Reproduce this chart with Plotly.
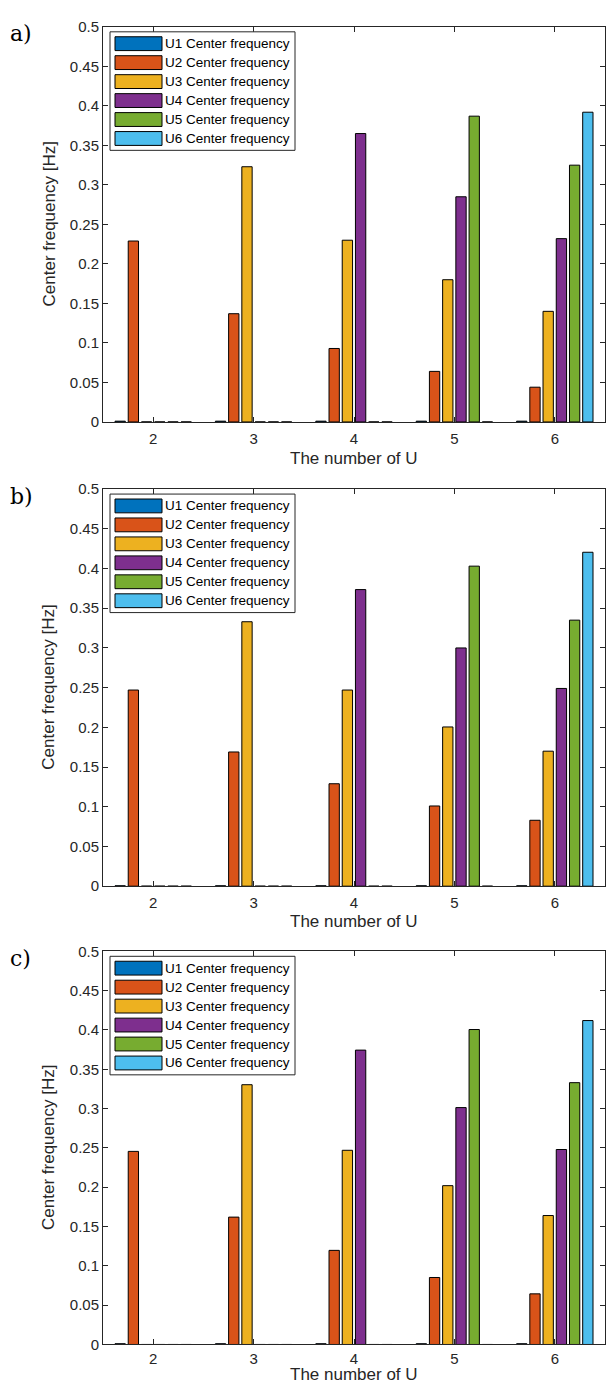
import plotly.graph_objects as go

# ---------------- data ----------------
categories = [2, 3, 4, 5, 6]
series_names = ["U1 Center frequency", "U2 Center frequency", "U3 Center frequency",
                "U4 Center frequency", "U5 Center frequency", "U6 Center frequency"]
series_colors = ["#0072BD", "#D95319", "#EDB120", "#7E2F8E", "#77AC30", "#4DBEEE"]
panel_labels = ["a)", "b)", "c)"]

a_u1 = [0.001, 0.001, 0.001, 0.001, 0.001]
a_u2 = [0.229, 0.137, 0.093, 0.064, 0.044]
a_u3 = [0.0, 0.323, 0.230, 0.180, 0.140]
a_u4 = [0.0, 0.0, 0.365, 0.285, 0.232]
a_u5 = [0.0, 0.0, 0.0, 0.387, 0.325]
a_u6 = [0.0, 0.0, 0.0, 0.0, 0.392]

b_u1 = [0.0005, 0.0005, 0.0005, 0.0005, 0.0005]
b_u2 = [0.247, 0.169, 0.129, 0.101, 0.083]
b_u3 = [0.0, 0.333, 0.247, 0.2005, 0.170]
b_u4 = [0.0, 0.0, 0.3735, 0.300, 0.249]
b_u5 = [0.0, 0.0, 0.0, 0.403, 0.335]
b_u6 = [0.0, 0.0, 0.0, 0.0, 0.4205]

c_u1 = [0.001, 0.001, 0.001, 0.001, 0.001]
c_u2 = [0.2456, 0.162, 0.1197, 0.0852, 0.0644]
c_u3 = [0.0, 0.3304, 0.247, 0.202, 0.164]
c_u4 = [0.0, 0.0, 0.3744, 0.3013, 0.248]
c_u5 = [0.0, 0.0, 0.0, 0.4006, 0.333]
c_u6 = [0.0, 0.0, 0.0, 0.0, 0.412]

y_tickvals = [0, 0.05, 0.1, 0.15, 0.2, 0.25, 0.3, 0.35, 0.4, 0.45, 0.5]
y_ticktext = ["0", "0.05", "0.1", "0.15", "0.2", "0.25", "0.3", "0.35", "0.4", "0.45", "0.5"]
x_ticktext = ["2", "3", "4", "5", "6"]
x_title = "The number of U"
y_title = "Center frequency [Hz]"

panels = [
    [a_u1, a_u2, a_u3, a_u4, a_u5, a_u6],
    [b_u1, b_u2, b_u3, b_u4, b_u5, b_u6],
    [c_u1, c_u2, c_u3, c_u4, c_u5, c_u6],
]

# ---------------- layout geometry (page pixels) ----------------
PAGE_W, PAGE_H = 614, 1399
OFF = 8                      # default body margin of the page
FW, FH = PAGE_W - 2 * OFF, PAGE_H - 2 * OFF
PLOT_L, PLOT_R = 103, 605
PANEL_TOPS = [18, 486, 954]
PANEL_BOTS = [418, 888, 1352]
XTITLE_Y = [455, 924, 1382]
XTICK_STANDOFF = [3, 3, 1]
AXCOL = "#262626"
SANS = "Liberation Sans, Arial, Helvetica, sans-serif"


def px(x):
    return (x - OFF) / FW


def py(y):
    return 1 - (y - OFF) / FH


fig = go.Figure()
layout = dict(
    width=FW, height=FH,
    margin=dict(l=0, r=0, t=0, b=0),
    paper_bgcolor="white", plot_bgcolor="white",
    barmode="group", bargap=0.21, bargroupgap=0.22,
    showlegend=False,
    font=dict(family=SANS, color=AXCOL),
)
shapes = []
annotations = []

for p, data in enumerate(panels):
    sfx = "" if p == 0 else str(p + 1)
    top, bot = PANEL_TOPS[p], PANEL_BOTS[p]
    for s, vals in enumerate(data):
        fig.add_trace(go.Bar(
            x=categories, y=vals, name=series_names[s],
            marker=dict(color=series_colors[s], line=dict(color="#000000", width=1)),
            xaxis="x" + sfx, yaxis="y" + sfx, showlegend=False,
        ))
    layout["xaxis" + sfx] = dict(
        domain=[px(PLOT_L), px(PLOT_R)], anchor="y" + sfx,
        range=[1.5, 6.5], tickmode="array", tickvals=categories, ticktext=x_ticktext,
        ticks="inside", ticklen=5, tickcolor=AXCOL, tickwidth=1,
        showline=True, linecolor=AXCOL, linewidth=1, mirror="ticks",
        showgrid=False, zeroline=False, ticklabelstandoff=XTICK_STANDOFF[p],
        tickfont=dict(family=SANS, size=15, color=AXCOL),
    )
    layout["yaxis" + sfx] = dict(
        domain=[py(bot), py(top)], anchor="x" + sfx,
        range=[0, 0.5], tickmode="array", tickvals=y_tickvals, ticktext=y_ticktext,
        ticks="inside", ticklen=5, tickcolor=AXCOL, tickwidth=1,
        showline=True, linecolor=AXCOL, linewidth=1, mirror="ticks",
        showgrid=False, zeroline=False,
        tickfont=dict(family=SANS, size=15, color=AXCOL),
    )
    # axis titles
    annotations.append(dict(
        x=px(49), y=py((top + bot) / 2), xref="paper", yref="paper",
        text=y_title, textangle=-90, showarrow=False,
        xanchor="center", yanchor="middle",
        font=dict(family=SANS, size=17, color=AXCOL),
    ))
    annotations.append(dict(
        x=px((PLOT_L + PLOT_R) / 2), y=py(XTITLE_Y[p]), xref="paper", yref="paper",
        text=x_title, showarrow=False, xanchor="center", yanchor="middle",
        font=dict(family=SANS, size=17, color=AXCOL),
    ))
    # panel label
    annotations.append(dict(
        x=px(8), y=py(top + 7), xref="paper", yref="paper",
        text=panel_labels[p], showarrow=False, xanchor="left", yanchor="middle",
        font=dict(family="DejaVu Serif, Liberation Serif, serif", size=22, color="#000000"),
    ))
    # legend box
    shapes.append(dict(
        type="rect", xref="paper", yref="paper",
        x0=px(PLOT_L + 7), x1=px(PLOT_L + 192), y0=py(top + 5), y1=py(top + 125),
        fillcolor="white", line=dict(color=AXCOL, width=1), layer="above",
    ))
    for s in range(len(series_names)):
        cy = top + 17 + s * 19.2
        shapes.append(dict(
            type="rect", xref="paper", yref="paper",
            x0=px(PLOT_L + 12), x1=px(PLOT_L + 59), y0=py(cy - 7), y1=py(cy + 7),
            fillcolor=series_colors[s], line=dict(color="#000000", width=1), layer="above",
        ))
        annotations.append(dict(
            x=px(PLOT_L + 60), y=py(cy), xref="paper", yref="paper",
            text=series_names[s], showarrow=False, xanchor="left", yanchor="middle",
            font=dict(family=SANS, size=13.5, color="#000000"),
        ))

layout["shapes"] = shapes
layout["annotations"] = annotations
fig.update_layout(**layout)
fig.write_html("out.html", config={"displayModeBar": False})
